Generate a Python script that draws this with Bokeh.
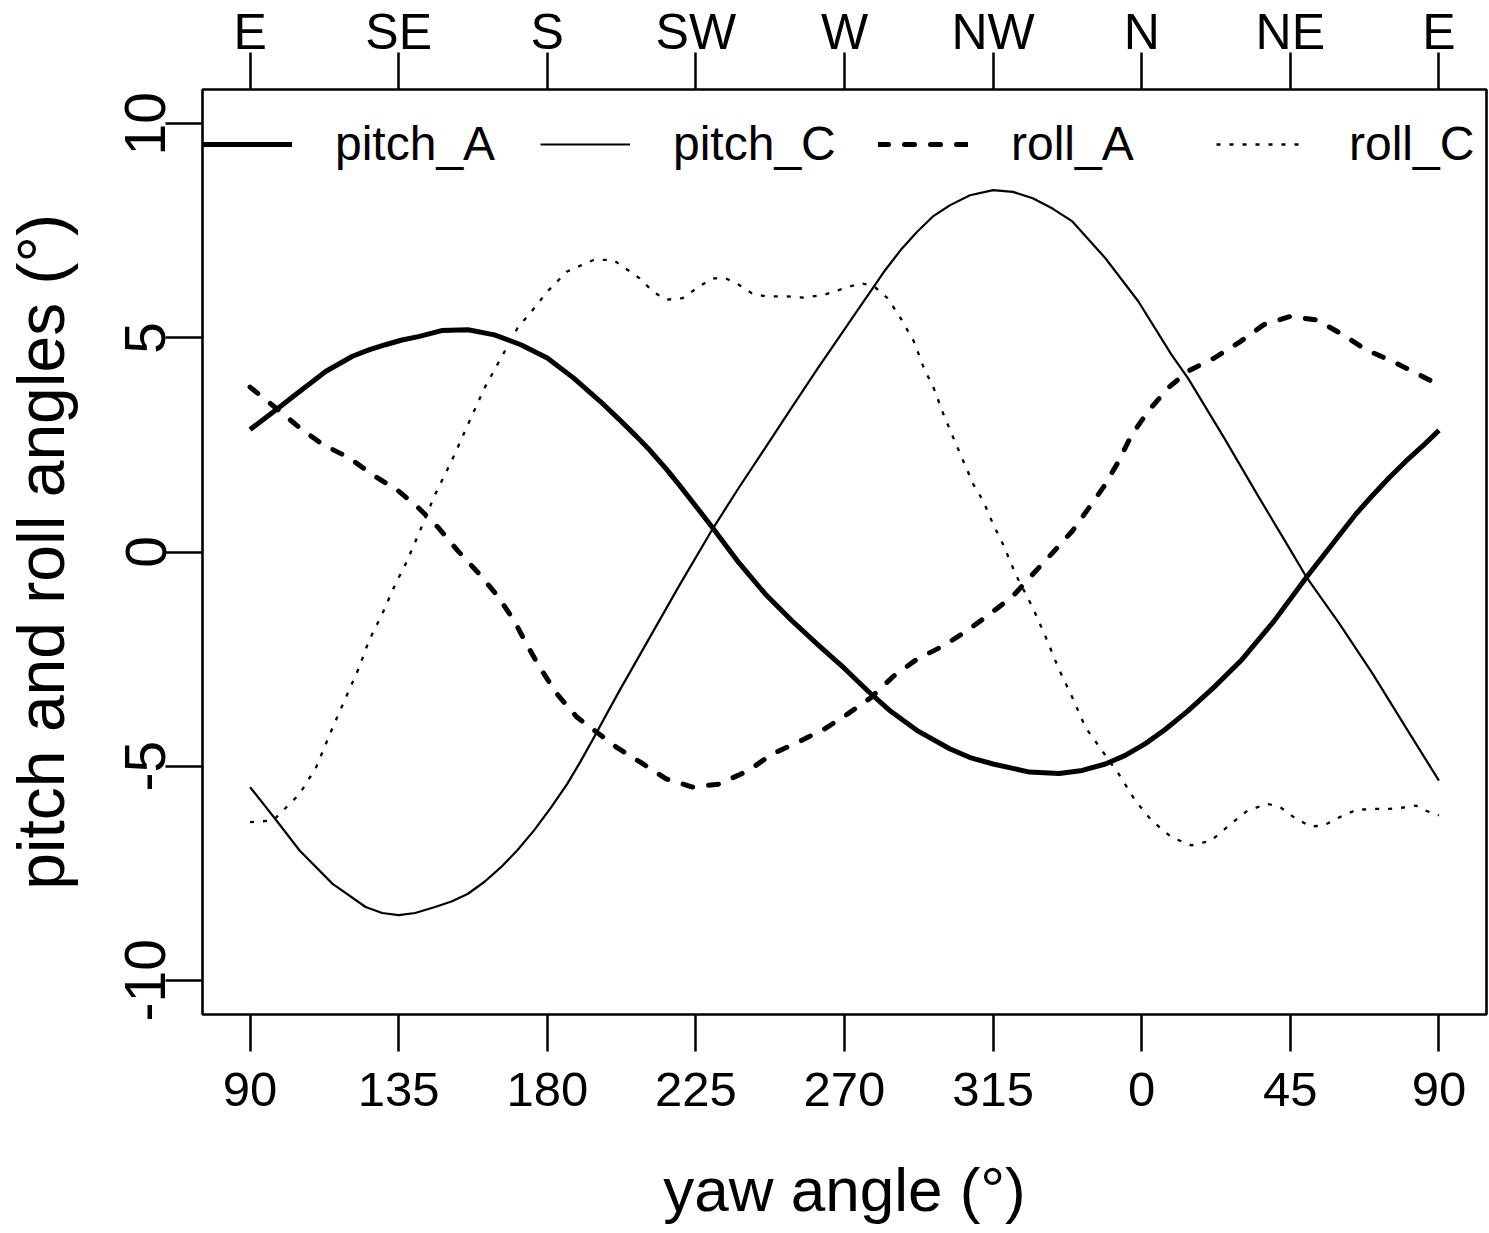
from bokeh.plotting import figure
from bokeh.models import Range1d, LinearAxis, FixedTicker, Legend, LegendItem
from bokeh.embed import file_html
from bokeh.resources import INLINE

# ---------------- data ----------------
yaw_ticks = [90, 135, 180, 225, 270, 315, 360, 405, 450]
yaw_tick_labels = ["90", "135", "180", "225", "270", "315", "0", "45", "90"]
compass_labels = ["E", "SE", "S", "SW", "W", "NW", "N", "NE", "E"]
angle_ticks = [-10, -5, 0, 5, 10]
angle_tick_labels = ["-10", "-5", "0", "5", "10"]

pitch_A_x = [90, 98, 105, 113, 121, 126, 131, 136, 141, 148, 156, 164, 172, 180, 188, 196,
             202, 207, 211, 216, 220, 225, 230, 238, 246, 254, 262, 270, 277, 284, 292, 302,
             308, 315, 326, 335, 342, 349, 355, 361, 367, 374, 382, 390, 400, 410, 420, 425,
             430, 435, 440, 445, 450]
pitch_A_y = [2.86, 3.33, 3.75, 4.22, 4.57, 4.72, 4.84, 4.95, 5.03, 5.17, 5.19, 5.07, 4.84,
             4.53, 4.06, 3.52, 3.08, 2.7, 2.38, 1.94, 1.56, 1.07, 0.57, -0.25, -0.98, -1.6,
             -2.17, -2.72, -3.24, -3.72, -4.17, -4.6, -4.8, -4.95, -5.14, -5.17, -5.1, -4.95,
             -4.75, -4.48, -4.15, -3.71, -3.15, -2.54, -1.62, -0.58, 0.41, 0.9, 1.33, 1.74,
             2.12, 2.47, 2.84]

pitch_C_x = [90, 98, 105, 115, 125, 130, 135, 140, 146, 151, 156, 161, 166, 171, 176, 181,
             186, 190, 194, 198, 202, 211, 220, 230, 238, 246, 254, 262, 273, 282, 287, 292,
             297, 302, 308, 315, 321, 327, 333, 339, 349, 359, 369, 374, 385, 395, 405, 410,
             420, 430, 440, 450]
pitch_C_y = [-5.49, -6.27, -6.97, -7.75, -8.29, -8.43, -8.48, -8.43, -8.29, -8.16, -7.98,
             -7.7, -7.36, -6.96, -6.5, -5.98, -5.42, -4.9, -4.35, -3.78, -3.22, -2.0, -0.78,
             0.53, 1.5, 2.43, 3.37, 4.3, 5.54, 6.55, 7.05, 7.48, 7.85, 8.1, 8.33, 8.45, 8.41,
             8.26, 8.02, 7.72, 6.86, 5.85, 4.61, 4.06, 2.66, 1.34, 0.05, -0.6, -1.69, -2.85,
             -4.1, -5.34]

roll_A_x = [90, 99, 105, 112, 120, 127, 135, 141, 147, 153, 159, 165, 170, 174, 178, 183,
            189, 195, 201, 209, 216, 224, 232, 241, 248, 256, 264, 271, 278, 285, 292, 300,
            307, 314, 321, 327, 333, 339, 344, 349, 353, 357, 362, 368, 374, 382, 390, 397,
            405, 413, 421, 428, 436, 444, 450]
roll_A_y = [3.85, 3.29, 2.9, 2.51, 2.2, 1.81, 1.42, 1.03, 0.57, 0.02, -0.48, -1.03, -1.61,
            -2.19, -2.73, -3.32, -3.86, -4.21, -4.56, -4.95, -5.3, -5.49, -5.42, -5.1, -4.72,
            -4.44, -4.13, -3.78, -3.4, -2.89, -2.5, -2.19, -1.84, -1.45, -1.03, -0.52, -0.02,
            0.49, 1.03, 1.58, 2.12, 2.74, 3.29, 3.83, 4.22, 4.53, 4.92, 5.31, 5.5, 5.42, 5.07,
            4.72, 4.45, 4.14, 3.9]

roll_C_x = [90, 97, 105, 110, 115, 119, 123, 126, 130, 134, 137, 141, 146, 151, 156, 161,
            166, 171, 176, 180, 186, 194, 200, 208, 212, 216, 221, 226, 230, 234, 238, 242,
            246, 252, 258, 264, 270, 275, 279, 283, 287, 291, 294, 297, 300, 303, 306, 309,
            312, 315, 318, 322, 327, 331, 335, 339, 343, 348, 353, 358, 363, 369, 375, 381,
            387, 392, 398, 402, 406, 411, 415, 420, 425, 430, 435, 440, 443, 446, 450]
roll_C_y = [-6.31, -6.27, -5.65, -5.03, -4.1, -3.4, -2.7, -2.07, -1.45, -0.75, -0.3, 0.41,
            1.34, 2.12, 2.98, 3.83, 4.53, 5.23, 5.69, 6.08, 6.55, 6.82, 6.82, 6.39, 6.08,
            5.89, 5.93, 6.2, 6.39, 6.39, 6.24, 6.04, 5.97, 5.97, 5.94, 6.01, 6.16, 6.28, 6.2,
            5.93, 5.46, 4.92, 4.3, 3.83, 3.21, 2.66, 2.12, 1.58, 1.19, 0.65, 0.18, -0.55,
            -1.3, -2.0, -2.75, -3.4, -4.1, -4.64, -5.18, -5.8, -6.27, -6.66, -6.85, -6.74,
            -6.35, -6.04, -5.88, -5.96, -6.19, -6.41, -6.39, -6.19, -6.02, -6.0, -6.0, -5.96,
            -5.92, -6.04, -6.15]

FONT = "Liberation Sans"

p = figure(width=1489, height=1233, output_backend="svg", toolbar_location=None,
           x_range=Range1d(75.6, 464.4), y_range=Range1d(-10.8, 10.8),
           min_border_left=202, min_border_right=3, min_border_top=87,
           min_border_bottom=219)
p.xgrid.visible = False
p.ygrid.visible = False
p.background_fill_color = "white"
p.border_fill_color = "white"
p.outline_line_color = "black"
p.outline_line_width = 2.6


def style_axis(ax, ticks, labels, standoff, size):
    ax.ticker = FixedTicker(ticks=ticks)
    ax.major_label_overrides = {t: l for t, l in zip(ticks, labels)}
    ax.major_tick_out = 37
    ax.major_tick_in = 0
    ax.minor_tick_out = 0
    ax.minor_tick_in = 0
    ax.major_tick_line_width = 2.5
    ax.major_tick_line_color = "black"
    ax.axis_line_color = None
    ax.major_label_text_font = FONT
    ax.major_label_text_font_size = size
    ax.major_label_text_color = "black"
    ax.major_label_standoff = standoff
    ax.axis_label_text_font = FONT
    ax.axis_label_text_font_style = "normal"
    ax.axis_label_text_color = "black"


xax = p.xaxis[0]
style_axis(xax, yaw_ticks, yaw_tick_labels, 21, "49px")
xax.axis_label = "yaw angle (°)"
xax.axis_label_text_font_size = "62px"
xax.axis_label_standoff = 46

yax = p.yaxis[0]
style_axis(yax, angle_ticks, angle_tick_labels, 0, "57px")
yax.major_label_orientation = "vertical"
yax.axis_label = "pitch and roll angles (°)"
yax.axis_label_text_font_size = "66px"
yax.axis_label_standoff = 45

top = LinearAxis()
style_axis(top, yaw_ticks, compass_labels, -7, "50px")
p.add_layout(top, "above")

r1 = p.line(pitch_A_x, pitch_A_y, line_color="black", line_width=5, line_join="round")
r2 = p.line(pitch_C_x, pitch_C_y, line_color="black", line_width=2.2, line_join="round")
r3 = p.line(roll_A_x, roll_A_y, line_color="black", line_width=5, line_dash="10 16",
            line_cap="round", line_join="round")
r4 = p.line(roll_C_x, roll_C_y, line_color="black", line_width=2.3, line_dash="4 9",
            line_join="round")

legend = Legend(items=[LegendItem(label="pitch_A", renderers=[r1]),
                       LegendItem(label="pitch_C", renderers=[r2]),
                       LegendItem(label="roll_A", renderers=[r3]),
                       LegendItem(label="roll_C", renderers=[r4])],
                orientation="horizontal", location=(0, 843), padding=0, margin=0,
                spacing=0, glyph_width=90, glyph_height=50, label_height=50,
                label_width=205, label_standoff=43, label_text_font=FONT,
                label_text_font_size="48px", label_text_color="black",
                border_line_color=None, background_fill_alpha=0)
p.add_layout(legend)

open("out.html", "w").write(file_html(p, INLINE))
